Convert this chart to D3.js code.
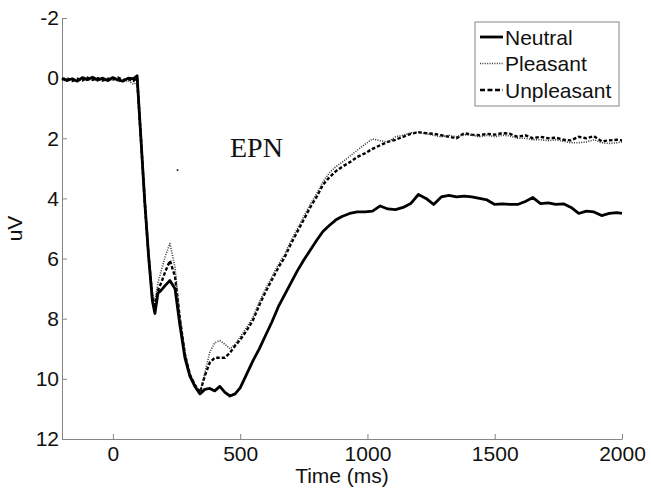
<!DOCTYPE html>
<html>
<head>
<meta charset="utf-8">
<script src="https://cdn.jsdelivr.net/npm/d3@7"></script>
<style>
  body { margin: 0; background: #fff; }
  svg text { font-family: "Liberation Sans", Arial, sans-serif; }
</style>
</head>
<body>
<div id="chart"></div>
<script>
// time axis (ms), shared by all three conditions
const times = [-200,-180,-160,-140,-120,-100,-80,-60,-40,-20,0,20,40,60,80,95,
  110,125,140,155,165,177,190,205,224,244,263,283,302,322,342,
  361,381,400,420,440,460,480,500,525,550,575,600,625,650,675,700,725,750,775,800,
  825,850,875,900,930,960,990,1020,1050,1080,1110,1140,1170,1200,1230,1260,1290,1320,
  1350,1380,1410,1440,1470,1500,1530,1560,1590,1620,1650,1680,1710,1740,1770,1800,
  1830,1860,1890,1920,1950,1980,2000];

const neutral = [0.0,0.08,0.02,0.1,-0.02,0.05,-0.03,0.06,0.0,0.08,-0.02,0.06,0.1,0.0,0.02,-0.08,
  2.0,4.1,5.9,7.4,7.83,7.15,7.05,6.9,6.73,7.0,8.2,9.3,9.9,10.25,10.5,
  10.35,10.32,10.4,10.25,10.45,10.57,10.5,10.3,9.85,9.4,9.0,8.55,8.1,7.6,7.2,6.8,6.4,6.05,5.72,5.4,
  5.1,4.9,4.72,4.6,4.5,4.45,4.45,4.42,4.25,4.35,4.37,4.3,4.17,3.87,4.0,4.2,3.95,3.9,
  3.95,3.92,3.95,4.0,4.05,4.2,4.18,4.2,4.2,4.1,3.97,4.17,4.15,4.2,4.18,4.3,
  4.5,4.42,4.45,4.57,4.5,4.47,4.5];

const pleasant = [0.05,0.1,0.04,0.12,0.02,0.08,0.0,0.1,0.04,0.1,0.02,0.1,0.12,0.08,0.2,0.15,
  2.0,4.0,5.8,7.2,7.4,6.8,6.4,5.95,5.5,6.3,7.9,9.1,9.8,10.2,10.5,
  9.8,9.1,8.8,8.73,8.85,9.0,8.85,8.6,8.3,7.95,7.45,7.0,6.6,6.2,5.85,5.4,5.0,4.6,4.2,3.85,
  3.45,3.15,2.95,2.8,2.6,2.4,2.2,2.02,2.08,2.13,1.95,1.9,1.82,1.8,1.85,1.9,1.95,1.9,
  1.95,1.88,1.9,1.95,1.9,1.95,1.9,1.92,2.0,2.0,2.05,2.05,2.08,2.05,2.1,2.15,
  2.15,2.12,2.05,2.15,2.17,2.15,2.12];

const unpleasant = [0.05,0.0,0.1,0.02,0.08,-0.02,0.06,0.0,0.08,0.02,0.05,-0.02,0.06,0.03,0.1,0.0,
  2.0,4.1,5.9,7.3,7.55,7.05,6.8,6.45,6.07,6.6,8.0,9.2,9.85,10.2,10.45,
  9.9,9.45,9.3,9.3,9.3,9.13,8.9,8.7,8.4,8.05,7.55,7.1,6.7,6.3,5.95,5.5,5.1,4.7,4.3,3.95,
  3.55,3.3,3.1,2.95,2.8,2.62,2.5,2.35,2.23,2.12,2.05,1.95,1.85,1.8,1.83,1.85,1.9,1.95,
  2.0,1.83,1.88,1.9,1.85,1.88,1.83,1.85,1.95,1.9,2.0,1.95,2.0,1.98,2.05,2.07,
  1.95,2.0,1.93,2.1,2.07,2.05,2.07];

const xTicks = [0, 500, 1000, 1500, 2000];
const yTicks = [-2, 0, 2, 4, 6, 8, 10, 12];
const legendNames = ["Neutral", "Pleasant", "Unpleasant"];

const W = 651, H = 495;
const margin = {top: 18, right: 29, bottom: 56, left: 62};
const width = W - margin.left - margin.right,
      height = H - margin.top - margin.bottom;

const svg = d3.select("#chart").append("svg")
  .attr("width", W)
  .attr("height", H);

const g = svg.append("g")
  .attr("transform", "translate(" + margin.left + "," + margin.top + ")");

const x = d3.scaleLinear().domain([-200, 2000]).range([0, width]);
// uV axis is flipped: negative up
const y = d3.scaleLinear().domain([-2, 12]).range([0, height]);

const xAxis = g.append("g")
  .attr("transform", "translate(0," + height + ")")
  .call(d3.axisBottom(x).tickValues(xTicks).tickFormat(d => String(d))
    .tickSizeInner(-5).tickSizeOuter(0).tickPadding(7));

const yAxis = g.append("g")
  .call(d3.axisLeft(y).tickValues(yTicks).tickFormat(d => String(d))
    .tickSizeInner(-5).tickSizeOuter(0).tickPadding(3));

[xAxis, yAxis].forEach(a => {
  a.select(".domain").attr("stroke", "#858585");
  a.selectAll(".tick line").attr("stroke", "#858585");
  a.selectAll("text").attr("fill", "#111").style("font-size", "21px");
});

g.append("text")
  .attr("x", x(900))
  .attr("y", height + 44)
  .attr("text-anchor", "middle")
  .style("font-size", "21px")
  .attr("fill", "#111")
  .text("Time (ms)");

g.append("text")
  .attr("transform", "translate(" + (-40) + "," + y(5) + ") rotate(-90)")
  .attr("text-anchor", "middle")
  .style("font-size", "21px")
  .attr("fill", "#111")
  .text("uV");

const styles = [
  {data: neutral, width: 2.8, dash: null, color: "#000"},
  {data: pleasant, width: 1.6, dash: "1,1.4", color: "#333"},
  {data: unpleasant, width: 2.4, dash: "3.5,2", color: "#000"}
];

const line = d3.line()
  .x((d, i) => x(times[i]))
  .y(d => y(d));

styles.slice().reverse().forEach(s => {
  g.append("path")
    .datum(s.data)
    .attr("fill", "none")
    .attr("stroke", s.color)
    .attr("stroke-width", s.width)
    .attr("stroke-dasharray", s.dash)
    .attr("stroke-linejoin", "round")
    .attr("d", line);
});

// annotations
g.append("text")
  .attr("x", x(460))
  .attr("y", y(2.63))
  .style("font-family", "'Liberation Serif', 'Times New Roman', serif")
  .style("font-size", "28px")
  .attr("fill", "#111")
  .text("EPN");

g.append("text")
  .attr("x", x(245))
  .attr("y", y(3.08))
  .style("font-size", "16px")
  .attr("fill", "#111")
  .text(".");

// legend
const legend = g.append("g")
  .attr("transform", "translate(" + (475 - margin.left) + "," + (22 - margin.top) + ")");

legend.append("rect")
  .attr("x", 0).attr("y", 0)
  .attr("width", 144).attr("height", 84)
  .attr("fill", "#fff")
  .attr("stroke", "#858585");

legendNames.forEach((name, i) => {
  const s = styles[i];
  const yy = 15 + i * 26.5;
  legend.append("line")
    .attr("x1", 5).attr("x2", 28)
    .attr("y1", yy).attr("y2", yy)
    .attr("stroke", s.color)
    .attr("stroke-width", s.width)
    .attr("stroke-dasharray", i === 2 ? "5,2.5" : s.dash);
  legend.append("text")
    .attr("x", 30)
    .attr("y", yy + 7.5)
    .style("font-size", "21px")
    .attr("fill", "#111")
    .text(name);
});
</script>
</body>
</html>
